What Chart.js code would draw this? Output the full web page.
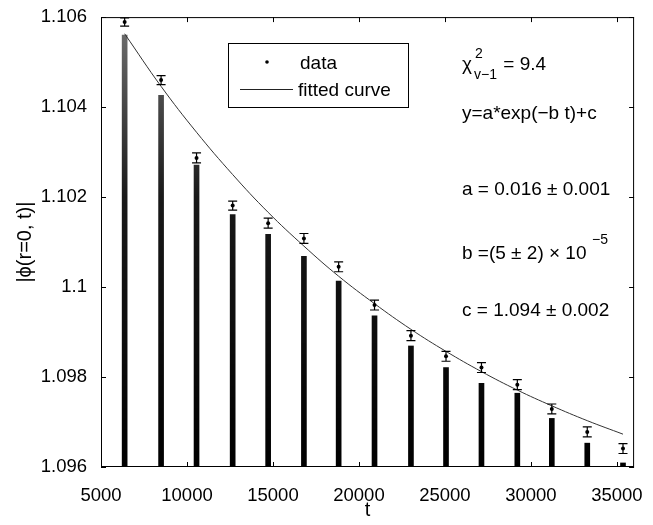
<!DOCTYPE html>
<html>
<head>
<meta charset="utf-8">
<script src="https://cdn.jsdelivr.net/npm/chart.js@4.4.1/dist/chart.umd.min.js"></script>
<style>
  html, body { margin: 0; padding: 0; background: #fff; }
  #wrap { width: 653px; height: 525px; }
</style>
</head>
<body>
<div id="wrap"><canvas id="chart" width="653" height="525"></canvas></div>
<script>
// valores
const tValues = [6375, 8494, 10556, 12657, 14720, 16800, 18820, 20906, 23024, 25063, 27125, 29210, 31215, 33277, 35355];
const dataValues = [1.10589, 1.10460, 1.10287, 1.10181, 1.10142, 1.10108, 1.10045, 1.09960, 1.09892, 1.09846, 1.09821, 1.09783, 1.09729, 1.09678, 1.09641];
const errValues = [0.00009, 0.00010, 0.00011, 0.00010, 0.00011, 0.00011, 0.00011, 0.00011, 0.00011, 0.00011, 0.00011, 0.00011, 0.00011, 0.00011, 0.00011];
const fitValues = [1.10563, 1.10446, 1.10344, 1.10250, 1.10166, 1.10091, 1.10024, 1.09963, 1.09906, 1.09857, 1.09812, 1.09771, 1.09736, 1.09703, 1.09673];
const spikeTops = [1.10560, 1.10426, 1.10271, 1.10161, 1.10117, 1.10068, 1.10013, 1.09936, 1.09869, 1.09821, 1.09786, 1.09764, 1.09708, 1.09653, 1.09609];
const xTicks = [5000, 10000, 15000, 20000, 25000, 30000, 35000];
const yTicks = [1.096, 1.098, 1.1, 1.102, 1.104, 1.106];
const yBase = 1.096;

const FONT = "'Liberation Sans', Arial, Helvetica, sans-serif";

// ticks hacia dentro y caja, leyenda y textos
const decorPlugin = {
  id: 'decor',
  afterDatasetsDraw(chart) {
    const ctx = chart.ctx;
    const a = chart.chartArea;
    const xs = chart.scales.x, ys = chart.scales.y;

    // barras de error
    ctx.save();
    ctx.strokeStyle = '#000';
    ctx.lineWidth = 1.2;
    tValues.forEach((t, i) => {
      const px = xs.getPixelForValue(t);
      const y1 = ys.getPixelForValue(dataValues[i] + errValues[i]);
      const y2 = ys.getPixelForValue(dataValues[i] - errValues[i]);
      ctx.beginPath();
      ctx.moveTo(px, y1); ctx.lineTo(px, y2);
      ctx.moveTo(px - 4.5, y1); ctx.lineTo(px + 4.5, y1);
      ctx.moveTo(px - 4.5, y2); ctx.lineTo(px + 4.5, y2);
      ctx.stroke();
    });
    ctx.restore();

    // caja
    ctx.save();
    ctx.strokeStyle = '#000';
    ctx.lineWidth = 1;
    ctx.strokeRect(a.left + 0.5, a.top + 0.5, a.right - a.left - 1, a.bottom - a.top - 1);
    ctx.beginPath();
    xTicks.forEach(v => {
      const px = Math.round(xs.getPixelForValue(v)) + 0.5;
      ctx.moveTo(px, a.bottom); ctx.lineTo(px, a.bottom - 5);
      ctx.moveTo(px, a.top); ctx.lineTo(px, a.top + 5);
    });
    yTicks.forEach(v => {
      const py = Math.round(ys.getPixelForValue(v)) + 0.5;
      ctx.moveTo(a.left, py); ctx.lineTo(a.left + 5, py);
      ctx.moveTo(a.right, py); ctx.lineTo(a.right - 5, py);
    });
    ctx.stroke();
    ctx.restore();

    // leyenda
    ctx.save();
    ctx.fillStyle = '#fff';
    ctx.fillRect(228, 43, 180, 64);
    ctx.strokeStyle = '#000';
    ctx.lineWidth = 1;
    ctx.strokeRect(228.5, 43.5, 180, 64);
    ctx.fillStyle = '#000';
    ctx.beginPath();
    ctx.arc(267, 62, 1.8, 0, Math.PI * 2);
    ctx.fill();
    ctx.beginPath();
    ctx.strokeStyle = '#222';
    ctx.moveTo(240, 89.5); ctx.lineTo(293, 89.5);
    ctx.stroke();
    ctx.font = '19px ' + FONT;
    ctx.textBaseline = 'alphabetic';
    ctx.fillText(chart.data.datasets[2].label, 300, 69);
    ctx.fillText(chart.data.datasets[1].label, 298, 96);

    // anotaciones del ajuste
    const x0 = 462;
    ctx.fillText('\u03c7', x0, 70);
    ctx.font = '14px ' + FONT;
    ctx.fillText('2', 475, 58);
    ctx.fillText('v\u22121', 474, 79);
    ctx.font = '19px ' + FONT;
    ctx.fillText(' = 9.4', 498, 70);
    ctx.fillText('y=a*exp(\u2212b t)+c', x0, 119);
    ctx.fillText('a = 0.016 \u00b1 0.001', x0, 195);
    ctx.fillText('b =(5 \u00b1 2) \u00d7 10', x0, 259);
    ctx.font = '14px ' + FONT;
    ctx.fillText('\u22125', 592, 244);
    ctx.font = '19px ' + FONT;
    ctx.fillText('c = 1.094 \u00b1 0.002', x0, 316);
    ctx.restore();
  }
};

const ctxChart = document.getElementById('chart').getContext('2d');

new Chart(ctxChart, {
  type: 'bar',
  data: {
    datasets: [
      {
        type: 'bar',
        label: 'spikes',
        data: tValues.map((t, i) => ({ x: t, y: [yBase, spikeTops[i]] })),
        barThickness: 5,
        grouped: false,
        borderWidth: 0,
        backgroundColor: (c) => {
          const area = c.chart.chartArea;
          if (!area) return '#000';
          const g = c.chart.ctx.createLinearGradient(0, area.top, 0, area.bottom);
          g.addColorStop(0, 'rgba(0,0,0,0.55)');
          g.addColorStop(0.4, 'rgba(0,0,0,0.9)');
          g.addColorStop(1, '#000');
          return g;
        },
        order: 3
      },
      {
        type: 'line',
        label: 'fitted curve',
        data: tValues.map((t, i) => ({ x: t, y: fitValues[i] })),
        borderColor: '#333',
        borderWidth: 1,
        pointRadius: 0,
        tension: 0.4,
        fill: false,
        order: 2
      },
      {
        type: 'line',
        label: 'data',
        data: tValues.map((t, i) => ({ x: t, y: dataValues[i] })),
        showLine: false,
        pointRadius: 2,
        pointBackgroundColor: '#000',
        pointBorderWidth: 0,
        order: 1
      }
    ]
  },
  options: {
    responsive: false,
    animation: false,
    layout: { padding: { left: 0, right: 12, top: 14, bottom: 0 } },
    plugins: {
      legend: { display: false },
      tooltip: { enabled: false }
    },
    scales: {
      x: {
        type: 'linear',
        min: 5000,
        max: 36000,
        offset: false,
        grid: { display: false },
        border: { display: false },
        afterFit: (s) => { s.height = 58; },
        afterBuildTicks: (s) => { s.ticks = xTicks.map(v => ({ value: v })); },
        ticks: {
          includeBounds: false,
          padding: 10,
          maxRotation: 0,
          color: '#000',
          font: { family: FONT, size: 18.5 },
          callback: (v) => String(v)
        },
        title: {
          display: true,
          text: 't',
          color: '#000',
          font: { family: FONT, size: 20 },
          padding: { top: 0, bottom: 3 }
        }
      },
      y: {
        min: 1.096,
        max: 1.106,
        grid: { display: false },
        border: { display: false },
        afterFit: (s) => { s.width = 101; },
        afterBuildTicks: (s) => { s.ticks = yTicks.map(v => ({ value: v })); },
        ticks: {
          padding: 6,
          color: '#000',
          font: { family: FONT, size: 18.5 },
          callback: (v) => (Math.abs(v - 1.1) < 1e-9 ? '1.1' : v.toFixed(3))
        },
        title: {
          display: true,
          text: '|\u03d5(r=0, t)|',
          color: '#000',
          font: { family: FONT, size: 20 },
          padding: { top: 13, bottom: 0 }
        }
      }
    }
  },
  plugins: [decorPlugin]
});
</script>
</body>
</html>
